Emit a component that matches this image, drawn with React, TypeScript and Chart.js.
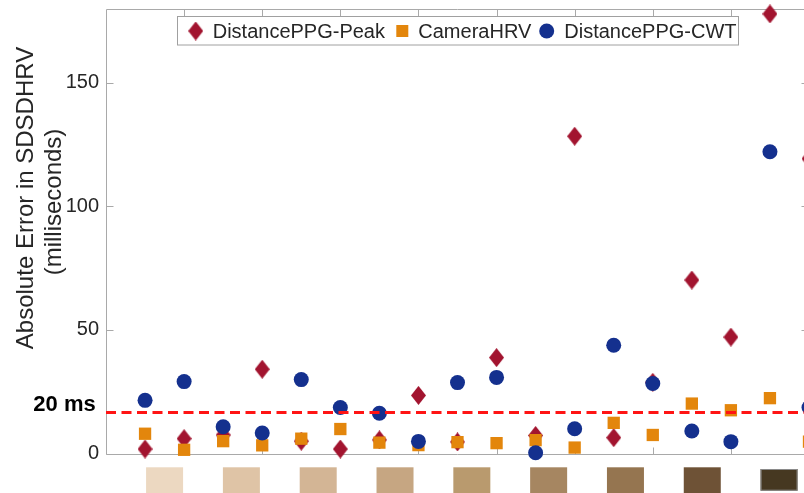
import React, { useEffect, useRef } from "react";
import { Chart, registerables } from "chart.js";

Chart.register(...registerables);

// ---- data ----
const POSITIONS = [1, 2, 3, 4, 5, 6, 7, 8, 9, 10, 11, 12, 13, 14, 15, 16, 17, 18];
const PEAK = [1.8, 6.0, 7.5, 34.1, 5.0, 1.8, 5.5, 23.5, 4.7, 38.8, 7.3, 128.4, 6.4, 28.8, 70.2, 47.1, 177.9, 119.3];
const CAMERA = [8.0, 1.5, 5.0, 3.3, 6.0, 9.9, 4.4, 3.4, 4.6, 4.2, 5.4, 2.4, 12.4, 7.5, 20.2, 17.5, 22.4, 4.8];
const CWT = [21.5, 29.1, 10.8, 8.3, 29.9, 18.6, 16.3, 4.9, 28.7, 30.8, 0.3, 10.0, 43.8, 28.3, 9.1, 4.8, 122.1, 18.6];
const THRESHOLD = 16.6;
const THRESHOLD_LABEL = "20 ms";
const SERIES_NAMES = ["DistancePPG-Peak", "CameraHRV", "DistancePPG-CWT"];
const Y_TICKS = [0, 50, 100, 150];
const X_TICKS = [2, 4, 6, 8, 10, 12, 14, 16];
const Y_TITLE = ["Absolute Error in SDSDHRV", "(milliseconds)"];
const SKIN_TONES = ["#ecd8c1", "#dfc4a6", "#d3b595", "#c6a682", "#b99a6e", "#a68661", "#957550", "#6e5236", "#463821"];

const RED = "#a2142f";
const ORANGE = "#e3860c";
const BLUE = "#14308e";
const AXIS = "#a9a9a9";
const TEXT = "#262626";
const FONT = "'Liberation Sans', Arial, Helvetica, sans-serif";

function makeDiamond(): HTMLCanvasElement {
  const c = document.createElement("canvas");
  c.width = 15;
  c.height = 19;
  const g = c.getContext("2d")!;
  g.fillStyle = RED;
  g.beginPath();
  g.moveTo(7.5, 0);
  g.lineTo(15, 9.5);
  g.lineTo(7.5, 19);
  g.lineTo(0, 9.5);
  g.closePath();
  g.fill();
  return c;
}

export default function App() {
  const ref = useRef<HTMLCanvasElement | null>(null);

  useEffect(() => {
    if (!ref.current) return;
    const diamond = makeDiamond();

    const decor = {
      id: "decor",
      beforeDatasetsDraw(chart: any) {
        const ctx = chart.ctx;
        const ca = chart.chartArea;
        const xs = chart.scales.x;
        const ys = chart.scales.y;
        ctx.save();
        // skin tone swatches
        SKIN_TONES.forEach((col, k) => {
          const cx = xs.getPixelForValue(2 * k + 1.5) - k * 1.3;
          const w = 37;
          const last = k === SKIN_TONES.length - 1;
          const top = last ? 469 : 467.3;
          const h = last ? 21.7 : 27;
          ctx.fillStyle = col;
          ctx.fillRect(cx - w / 2, top, w, h);
          if (last) {
            ctx.strokeStyle = "#8a8a8a";
            ctx.lineWidth = 1;
            ctx.strokeRect(cx - w / 2 + 0.5, top + 0.5, w - 1, h - 1);
          }
        });
        // axes box
        ctx.strokeStyle = AXIS;
        ctx.lineWidth = 1;
        const L = Math.round(ca.left) + 0.5;
        const R = Math.round(ca.right) - 0.5;
        const T = Math.round(ca.top) + 0.5;
        const B = Math.round(ca.bottom) + 0.5;
        ctx.beginPath();
        ctx.moveTo(L, T);
        ctx.lineTo(R, T);
        ctx.lineTo(R, B);
        ctx.lineTo(L, B);
        ctx.closePath();
        ctx.stroke();
        // tick marks (inward)
        ctx.beginPath();
        Y_TICKS.forEach((v) => {
          const y = Math.round(ys.getPixelForValue(v)) + 0.5;
          ctx.moveTo(L, y);
          ctx.lineTo(L + 7, y);
          ctx.moveTo(R, y);
          ctx.lineTo(R - 7, y);
        });
        X_TICKS.forEach((v) => {
          const x = Math.round(xs.getPixelForValue(v)) + 0.5;
          ctx.moveTo(x, B);
          ctx.lineTo(x, B - 7);
          ctx.moveTo(x, T);
          ctx.lineTo(x, T + 7);
        });
        ctx.stroke();
        // y-axis title
        ctx.fillStyle = TEXT;
        ctx.font = `24px ${FONT}`;
        ctx.textAlign = "center";
        ctx.textBaseline = "alphabetic";
        ctx.save();
        ctx.translate(33.3, 198);
        ctx.rotate(-Math.PI / 2);
        ctx.fillText(Y_TITLE[0], 0, 0);
        ctx.restore();
        ctx.save();
        ctx.translate(60.5, 202);
        ctx.rotate(-Math.PI / 2);
        ctx.fillText(Y_TITLE[1], 0, 0);
        ctx.restore();
        // threshold label
        ctx.fillStyle = "#000000";
        ctx.font = `bold 22px ${FONT}`;
        ctx.textAlign = "left";
        ctx.fillText(THRESHOLD_LABEL, 33.3, 410.7);
        ctx.restore();
      },
      afterDraw(chart: any) {
        const ctx = chart.ctx;
        ctx.save();
        // legend box
        ctx.fillStyle = "#ffffff";
        ctx.fillRect(177.5, 16.5, 561, 28.5);
        ctx.strokeStyle = "#a0a0a0";
        ctx.lineWidth = 1;
        ctx.strokeRect(177.5, 16.5, 561, 28.5);
        const cy = 31;
        // diamond
        ctx.drawImage(diamond, 195.7 - 7.5, cy - 9.5);
        // square
        ctx.fillStyle = ORANGE;
        ctx.fillRect(402.3 - 6, cy - 6, 12, 12);
        // circle
        ctx.fillStyle = BLUE;
        ctx.beginPath();
        ctx.arc(546.7, cy, 7.5, 0, Math.PI * 2);
        ctx.fill();
        ctx.fillStyle = TEXT;
        ctx.font = `20px ${FONT}`;
        ctx.textAlign = "left";
        ctx.textBaseline = "alphabetic";
        ctx.fillText(SERIES_NAMES[0], 212.7, 38.3);
        ctx.fillText(SERIES_NAMES[1], 418.3, 38.3);
        ctx.fillText(SERIES_NAMES[2], 564.3, 38.3);
        ctx.restore();
      },
    };

    const toPts = (arr: number[]) => POSITIONS.map((x, i) => ({ x, y: arr[i] }));

    const chart = new Chart(ref.current, {
      type: "scatter",
      data: {
        datasets: [
          {
            label: "threshold",
            data: [
              { x: 0, y: THRESHOLD },
              { x: 18, y: THRESHOLD },
            ],
            showLine: true,
            borderColor: "#ff1414",
            borderWidth: 3,
            borderDash: [10, 5.5],
            pointRadius: 0,
            order: 0,
            clip: false as any,
          } as any,
          {
            label: SERIES_NAMES[0],
            data: toPts(PEAK),
            pointStyle: diamond,
            pointRadius: 8,
            backgroundColor: RED,
            borderWidth: 0,
            order: 3,
            clip: false as any,
          } as any,
          {
            label: SERIES_NAMES[1],
            data: toPts(CAMERA),
            pointStyle: "rect",
            pointRadius: 8.7,
            backgroundColor: ORANGE,
            borderColor: ORANGE,
            borderWidth: 0,
            order: 2,
            clip: false as any,
          } as any,
          {
            label: SERIES_NAMES[2],
            data: toPts(CWT),
            pointStyle: "circle",
            pointRadius: 7.5,
            backgroundColor: BLUE,
            borderColor: BLUE,
            borderWidth: 0,
            order: 1,
            clip: false as any,
          } as any,
        ],
      },
      options: {
        animation: false,
        responsive: false,
        events: [],
        layout: { padding: { top: 7.3, right: 21, bottom: 39.5, left: 0 } },
        plugins: {
          legend: { display: false },
          tooltip: { enabled: false },
        },
        scales: {
          x: { type: "linear", min: 0, max: 18, display: false },
          y: {
            type: "linear",
            min: 0,
            max: 180,
            afterBuildTicks: (s: any) => {
              s.ticks = Y_TICKS.map((v) => ({ value: v }));
            },
            afterFit: (s: any) => {
              s.width = 106;
              s.paddingTop = 0;
              s.paddingBottom = 0;
            },
            ticks: {
              padding: 7,
              color: TEXT,
              font: { size: 20, family: FONT },
            },
            grid: { display: false, drawTicks: false },
            border: { display: false },
          },
        },
      },
      plugins: [decor],
    });
    return () => chart.destroy();
  }, []);

  return (
    <div
      style={{
        position: "fixed",
        left: 0,
        top: 0,
        width: 804,
        height: 493,
        overflow: "hidden",
        background: "#ffffff",
      }}
    >
      <canvas ref={ref} width={830} height={493} style={{ display: "block" }} />
    </div>
  );
}
